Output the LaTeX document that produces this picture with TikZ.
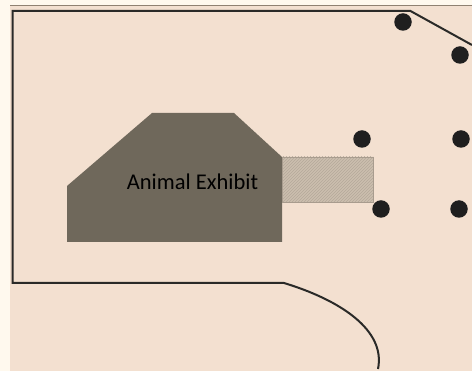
\documentclass[tikz,border=0pt]{standalone}
\usepackage{fontspec}
\setmainfont{Carlito}
\usetikzlibrary{patterns}
\definecolor{pagebg}{HTML}{FFF9EE}
\definecolor{panel}{HTML}{F3E0D0}
\definecolor{edgeband}{HTML}{8F8171}
\definecolor{ink}{HTML}{2A2A28}
\definecolor{exhibit}{HTML}{6F685B}
\definecolor{annex}{HTML}{CBBEAE}
\definecolor{annexline}{HTML}{A89C8E}
\definecolor{hatchcol}{HTML}{B5A99A}
\tikzset{
  wall/.style={draw=ink,line width=2pt,line join=miter},
  post/.style={circle,fill=black!88,minimum size=17.5pt,inner sep=0pt},
}
\begin{document}
\begin{tikzpicture}[x=1pt,y=-1pt]
\useasboundingbox (0,0) rectangle (472,371);
\fill[pagebg] (0,0) rectangle (472,371);
\fill[panel] (10,5) rectangle (472,371);
\draw[edgeband,line width=0.8pt] (10,5.3) -- (472,5.3);
% walls
\draw[wall] (472,45) -- (410.5,11) -- (12.5,11) -- (12.5,283) -- (284,283)
  .. controls (340,300) and (386,330) .. (378,369);
% exhibit
\fill[exhibit] (67,186) -- (152,113) -- (234,113) -- (282,157) -- (282,242) -- (67,242) -- cycle;
% annex
\fill[annex] (282,157) rectangle (373,202);
\fill[pattern=north east lines,pattern color=hatchcol] (282,157) rectangle (373,202);
\draw[annexline,line width=0.8pt] (282,157) rectangle (373,202);
\node[text=black,font=\fontsize{22.5}{26}\selectfont,anchor=center] (label) at (192.5,182) {Animal Exhibit};
% posts
\node[post] (p1) at (403,22) {};
\node[post] (p2) at (460,55) {};
\node[post] (p3) at (362,139) {};
\node[post] (p4) at (461,139) {};
\node[post] (p5) at (381,209) {};
\node[post] (p6) at (459,209) {};
\end{tikzpicture}
\end{document}
